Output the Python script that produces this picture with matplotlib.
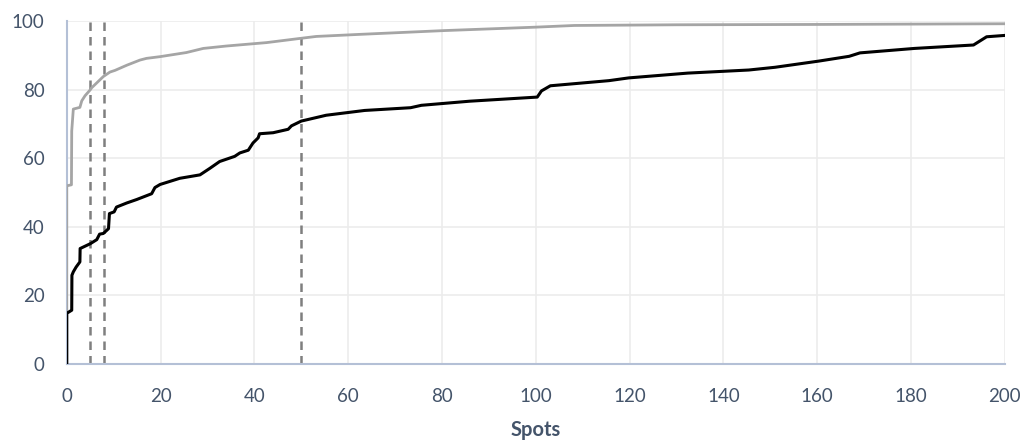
import numpy as np
import matplotlib.pyplot as plt

# grey curve (upper)
gx = [0, 0, 1.0, 1.06, 1.4, 2.8, 3.2, 3.9, 5.0, 5.3, 7.8, 9.2, 10.3, 12.8, 15.6,
      17.0, 19.9, 25.5, 29.1, 34.0, 42.6, 49.6, 53.2, 62.4, 80.3, 99.8, 108.2,
      130, 160.3, 200]
gy = [0, 52.0, 52.3, 68.0, 74.4, 74.9, 76.8, 78.3, 80.0, 80.6, 83.9, 85.2, 85.7,
      87.2, 88.7, 89.2, 89.7, 90.9, 92.1, 92.8, 93.8, 95.0, 95.6, 96.2, 97.3,
      98.3, 98.8, 99.0, 99.1, 99.3]

# black curve (lower)
bx = [0, 0, 1.06, 1.1, 1.4, 2.0, 2.8, 2.85, 5.0, 6.4, 7.0, 7.8, 8.9, 9.1, 10.1,
      10.6, 12.8, 14.9, 18.1, 18.8, 19.9, 24.1, 28.4, 30.5, 32.6, 35.8, 36.9,
      38.7, 39.7, 40.8, 41.1, 44.0, 47.2, 47.9, 50.0, 55.3, 63.5, 73.3, 75.6,
      85.9, 100.3, 101.2, 103.1, 115.6, 119.8, 132.4, 145.4, 151.0, 160.3,
      166.8, 169.1, 180.7, 193.3, 196.1, 200]
by = [0, 14.8, 15.7, 25.9, 26.9, 28.3, 29.8, 33.7, 35.1, 36.3, 37.9, 38.1, 39.5,
      43.9, 44.4, 45.8, 47.0, 48.0, 49.7, 51.5, 52.4, 54.2, 55.2, 57.1, 59.1,
      60.6, 61.6, 62.4, 64.5, 66.0, 67.2, 67.5, 68.5, 69.5, 70.9, 72.6, 74.0,
      74.8, 75.5, 76.7, 77.9, 79.7, 81.2, 82.7, 83.5, 84.9, 85.8, 86.6, 88.4,
      89.8, 90.8, 92.1, 93.1, 95.5, 95.9]

cutoffs = [5, 8, 50]

plt.rcParams['font.family'] = ['Lato', 'DejaVu Sans']
txt = '#44546a'

fig = plt.figure(figsize=(10.27, 4.45), dpi=100)
ax = fig.add_axes([0.065, 0.182, 0.9135, 0.77])

for c in cutoffs:
    ax.plot([c, c], [0, 100], color='#7f7f7f', lw=1.8, ls=(0, (3.4, 2.4)), zorder=2)
ax.plot(gx, gy, color='#a5a5a5', lw=2.0, zorder=3)
ax.plot(bx, by, color='black', lw=2.2, zorder=4)

ax.set_xlim(0, 200)
ax.set_ylim(0, 100)
ax.set_xticks(np.arange(0, 201, 20))
ax.set_yticks(np.arange(0, 101, 20))
ax.grid(True, color='#ececec', lw=1.2, zorder=0)
ax.set_axisbelow(True)
for s in ['top', 'right']:
    ax.spines[s].set_visible(False)
for s in ['left', 'bottom']:
    ax.spines[s].set_color('#b4c0d6')
    ax.spines[s].set_linewidth(1.5)
ax.tick_params(length=0, labelsize=13.5, labelcolor=txt)
ax.tick_params(axis='x', pad=17)
ax.tick_params(axis='y', pad=16)
ax.set_xlabel('Spots', fontsize=14.5, fontweight='bold', color=txt, labelpad=11)

fig.savefig('out.png', dpi=100)
